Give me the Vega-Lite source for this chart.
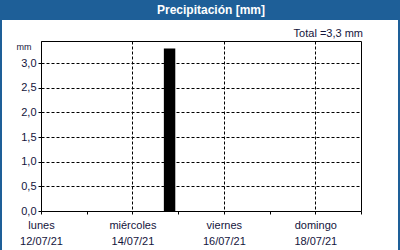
{
  "$schema": "https://vega.github.io/schema/vega-lite/v6.json",
  "padding": 0,
  "background": "white",
  "config": {
    "font": "Liberation Sans",
    "view": {"stroke": null},
    "title": {"font": "Liberation Sans"}
  },
  "spacing": 0,
  "align": "none",
  "hconcat": [
    {
      "width": 2,
      "height": 250,
      "view": {"fill": "#1e5f98", "stroke": null},
      "data": {"values": [{"t": ""}]},
      "mark": {"type": "text"},
      "encoding": {"text": {"field": "t"}}
    },
    {
      "spacing": 7,
      "align": "none",
      "vconcat": [
        {
          "width": 396,
          "height": 20,
          "view": {"fill": "#1e5f98", "stroke": null},
          "data": {"values": [{"t": "Precipitación [mm]"}]},
          "mark": {"type": "text", "font": "Liberation Sans", "fontSize": 12, "fontWeight": "bold", "color": "white", "baseline": "alphabetic", "dy": 4, "dx": 11},
          "encoding": {"text": {"field": "t"}}
        },
        {
          "spacing": 0,
          "align": "none",
          "vconcat": [
            {
              "spacing": 0,
              "align": "none",
              "hconcat": [
                {
                  "width": 1,
                  "height": 1,
                  "data": {"values": [{"t": ""}]},
                  "mark": {"type": "text"},
                  "encoding": {"text": {"field": "t"}}
                },
                {
                  "width": 320,
                  "height": 170,
                  "view": {"stroke": "black", "strokeWidth": 1, "fill": "white"},
                  "title": {"text": "Total =3,3 mm", "anchor": "end", "frame": "group", "orient": "top", "fontSize": 11, "fontWeight": "normal", "color": "#14143c", "baseline": "alphabetic", "offset": -7, "dx": 2},
                  "data": {"values": [{"start": "2021-07-14T16:30:00Z", "end": "2021-07-14T22:30:00Z", "mm": 3.3}]},
                  "mark": {"type": "bar", "color": "black"},
                  "encoding": {
                    "x": {
                      "field": "start",
                      "type": "temporal",
                      "scale": {"type": "utc", "domain": [{"year": 2021, "month": 7, "date": 12, "utc": true}, {"year": 2021, "month": 7, "date": 19, "utc": true}]},
                      "axis": {
                        "title": null,
                        "values": [
                          {"year": 2021, "month": 7, "date": 12, "utc": true},
                          {"year": 2021, "month": 7, "date": 13, "utc": true},
                          {"year": 2021, "month": 7, "date": 14, "utc": true},
                          {"year": 2021, "month": 7, "date": 15, "utc": true},
                          {"year": 2021, "month": 7, "date": 16, "utc": true},
                          {"year": 2021, "month": 7, "date": 17, "utc": true},
                          {"year": 2021, "month": 7, "date": 18, "utc": true},
                          {"year": 2021, "month": 7, "date": 19, "utc": true}
                        ],
                        "domain": false,
                        "grid": true,
                        "gridColor": "black",
                        "gridDash": [3, 2],
                        "gridOpacity": {"condition": {"test": "utcdate(datum.value) % 2 == 0", "value": 1}, "value": 0},
                        "ticks": true,
                        "tickSize": 3,
                        "tickColor": "black",
                        "labelExpr": "utcdate(datum.value) % 2 == 0 ? [['domingo','lunes','martes','miércoles','jueves','viernes','sábado'][utcday(datum.value)], utcFormat(datum.value, '%d/%m/%y')] : ''",
                        "labelPadding": 5.5,
                        "labelLineHeight": 16,
                        "labelFontSize": 11,
                        "labelColor": "#14143c",
                        "labelOverlap": false,
                        "labelFlush": false,
                        "labelBound": false,
                        "minExtent": 37,
                        "maxExtent": 37
                      }
                    },
                    "x2": {"field": "end"},
                    "y": {
                      "field": "mm",
                      "type": "quantitative",
                      "scale": {"domain": [0, 3.45], "nice": false, "zero": true},
                      "axis": {
                        "title": "mm",
                        "titleAngle": 0,
                        "titleAlign": "right",
                        "titleBaseline": "alphabetic",
                        "titleX": -10,
                        "titleY": 8.5,
                        "titleFontSize": 9,
                        "titleFontWeight": "normal",
                        "titleColor": "#14143c",
                        "values": [0, 0.5, 1, 1.5, 2, 2.5, 3],
                        "domain": false,
                        "grid": true,
                        "gridColor": "black",
                        "gridDash": [3, 2],
                        "gridOpacity": 1,
                        "ticks": true,
                        "tickSize": 4,
                        "tickDash": [3, 2],
                        "tickColor": "black",
                        "labelPadding": 1,
                        "labelFontSize": 11,
                        "labelColor": "#14143c",
                        "labelExpr": "replace(format(datum.value, '.1f'), '.', ',')",
                        "minExtent": 37,
                        "maxExtent": 37
                      }
                    },
                    "y2": {"datum": 0}
                  }
                }
              ]
            },
            {
              "width": 396,
              "height": 2,
              "view": {"fill": "#1e5f98", "stroke": null},
              "data": {"values": [{"t": ""}]},
              "mark": {"type": "text"},
              "encoding": {"text": {"field": "t"}}
            }
          ]
        }
      ]
    },
    {
      "width": 2,
      "height": 250,
      "view": {"fill": "#1e5f98", "stroke": null},
      "data": {"values": [{"t": ""}]},
      "mark": {"type": "text"},
      "encoding": {"text": {"field": "t"}}
    }
  ]
}
